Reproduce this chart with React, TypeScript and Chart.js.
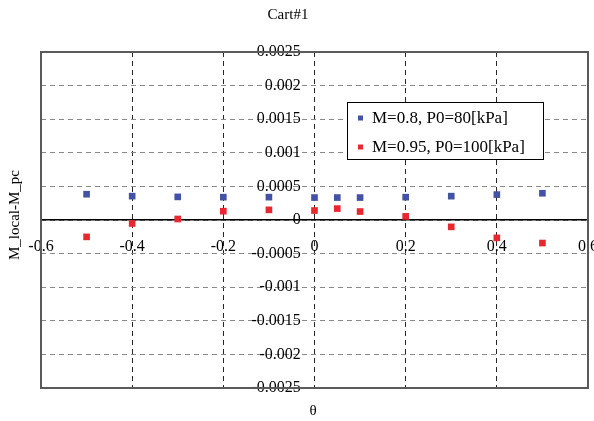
import React, { useEffect, useRef } from "react";
import { Chart, registerables, Plugin } from "chart.js";

Chart.register(...registerables);

// Angle positions (θ) shared by both series
const thetas = [-0.5, -0.4, -0.3, -0.2, -0.1, 0, 0.05, 0.1, 0.2, 0.3, 0.4, 0.5];

// M_local - M_pc for each case
const seriesM08 = [0.000384, 0.000355, 0.000344, 0.00034, 0.00034, 0.000334, 0.000334, 0.000334, 0.00034, 0.000355, 0.000378, 0.000398];
const seriesM095 = [-0.000251, -0.000052, 0.000015, 0.000131, 0.000151, 0.000141, 0.00017, 0.000126, 0.000054, -0.000102, -0.000266, -0.000343];

const seriesNames = ["M=0.8, P0=80[kPa]", "M=0.95, P0=100[kPa]"];
const seriesColors = ["#4352a4", "#e8282e"];

const xTickLabels = ["-0.6", "-0.4", "-0.2", "0", "0.2", "0.4", "0.6"];
const yTickLabels = ["-0.0025", "-0.002", "-0.0015", "-0.001", "-0.0005", "0", "0.0005", "0.001", "0.0015", "0.002", "0.0025"];

const chartTitle = "Cart#1";
const xTitle = "θ";
const yTitle = "M_local-M_pc";

const SERIF = "'Liberation Serif', 'Times New Roman', serif";

// Frame, titles and the in-plot legend box
const decorations: Plugin = {
  id: "decorations",
  afterDraw(chart) {
    const { ctx, chartArea } = chart;
    const { left, top, right, bottom } = chartArea;
    ctx.save();

    // plot frame
    ctx.strokeStyle = "#5a5a5a";
    ctx.lineWidth = 2;
    ctx.strokeRect(left, top, right - left, bottom - top);

    // titles
    ctx.fillStyle = "#000";
    ctx.font = `15px ${SERIF}`;
    ctx.textAlign = "center";
    ctx.textBaseline = "middle";
    ctx.fillText(chartTitle, 288, 15);
    ctx.fillText(xTitle, 313, 411);
    ctx.save();
    ctx.translate(15, 215);
    ctx.rotate(-Math.PI / 2);
    ctx.fillText(yTitle, 0, 0);
    ctx.restore();

    // legend
    const lx = left + 306;
    const ly = top + 50;
    const lw = 196;
    const lh = 57;
    ctx.fillStyle = "#fff";
    ctx.fillRect(lx, ly, lw, lh);
    ctx.strokeStyle = "#000";
    ctx.lineWidth = 1;
    ctx.strokeRect(lx + 0.5, ly + 0.5, lw, lh);
    ctx.font = `17px ${SERIF}`;
    ctx.textAlign = "left";
    chart.data.datasets.forEach((ds, i) => {
      const cy = ly + 16 + i * 29;
      ctx.fillStyle = ds.backgroundColor as string;
      ctx.fillRect(lx + 11, cy - 2.5, 5, 5);
      ctx.fillStyle = "#000";
      ctx.fillText(ds.label as string, lx + 25, cy + 1);
    });
    ctx.restore();
  },
};

export default function App() {
  const canvasRef = useRef<HTMLCanvasElement>(null);

  useEffect(() => {
    const canvas = canvasRef.current;
    if (!canvas) return;
    const datasets = [seriesM08, seriesM095].map((vals, i) => ({
      label: seriesNames[i],
      data: thetas.map((t, j) => ({ x: t, y: vals[j] })),
      backgroundColor: seriesColors[i],
      borderColor: seriesColors[i],
      borderWidth: 0,
      pointStyle: "rect" as const,
      pointRadius: 4.7,
      pointHoverRadius: 4.7,
      showLine: false,
    }));

    const chart = new Chart(canvas, {
      type: "scatter",
      data: { datasets },
      plugins: [decorations],
      options: {
        animation: false,
        responsive: false,
        layout: { padding: { left: 41, right: 6, top: 52, bottom: 33 } },
        plugins: {
          legend: { display: false },
          title: { display: false },
          tooltip: { enabled: false },
        },
        scales: {
          x: {
            type: "linear",
            position: { y: 0 },
            min: -0.6,
            max: 0.6,
            // edge labels may run past the plot; keep the plot width fixed
            afterFit: (scale: any) => {
              scale.paddingLeft = 0;
              scale.paddingRight = 0;
            },
            ticks: {
              stepSize: 0.2,
              autoSkip: false,
              maxRotation: 0,
              padding: 17,
              color: "#000",
              font: { family: SERIF, size: 16 },
              callback: (_v, i) => xTickLabels[i],
            },
            grid: {
              color: "#262626",
              lineWidth: 1,
              drawTicks: false,
            },
            border: { display: true, color: "#000", width: 1.5, dash: [5, 4] },
          },
          y: {
            type: "linear",
            // labels sit just left of the θ = 0 line
            position: { x: -0.03 },
            min: -0.0025,
            max: 0.0025,
            afterFit: (scale: any) => {
              scale.paddingTop = 0;
              scale.paddingBottom = 0;
            },
            ticks: {
              stepSize: 0.0005,
              autoSkip: false,
              color: "#000",
              font: { family: SERIF, size: 16 },
              callback: (_v, i) => yTickLabels[i],
            },
            grid: {
              color: "#8a8a8a",
              lineWidth: 1,
              drawTicks: false,
            },
            border: { display: false, dash: [5, 4] },
          },
        },
      },
    });

    return () => chart.destroy();
  }, []);

  return (
    <div style={{ position: "absolute", left: 0, top: 0, width: 594, height: 421, background: "#fff" }}>
      <canvas ref={canvasRef} width={594} height={421} style={{ display: "block" }} />
    </div>
  );
}
